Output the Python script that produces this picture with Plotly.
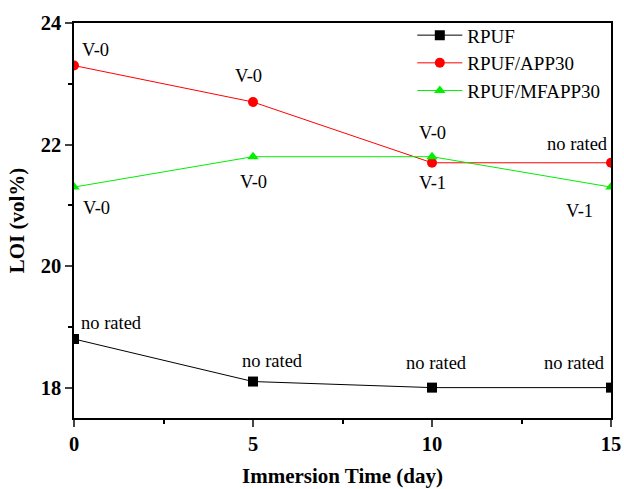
import plotly.graph_objects as go

days = [0, 5, 10, 15]
rpuf = [18.8, 18.1, 18.0, 18.0]
app30 = [23.3, 22.7, 21.7, 21.7]
mfapp30 = [21.3, 21.8, 21.8, 21.3]

rpuf_labels = ["no rated", "no rated", "no rated", "no rated"]
app30_labels = ["V-0", "V-0", "V-1", "no rated"]
mfapp30_labels = ["V-0", "V-0", "V-0", "V-1"]

FONT = "Liberation Serif, Times New Roman, serif"

fig = go.Figure()
series = [
    ("RPUF", rpuf, "#000000", "square"),
    ("RPUF/APP30", app30, "#ff0000", "circle"),
    ("RPUF/MFAPP30", mfapp30, "#00f000", "triangle-up"),
]
for name, ys, col, sym in series:
    fig.add_trace(go.Scatter(
        x=days, y=ys, name=name, mode="lines+markers",
        line=dict(color=col, width=1),
        marker=dict(color=col, symbol=sym, size=10),
    ))

# label offsets (pixels) per series/point
offs = {
    "rpuf": [(37, 16), (19, 21), (4, 25), (-37, 25)],
    "app30": [(21, 16), (-5, 26), (0, -20), (-34, 19)],
    "mfapp30": [(22, -21), (0, -25), (0, 24), (-32, -24)],
}
ann = []
for key, ys, labs in [("rpuf", rpuf, rpuf_labels), ("app30", app30, app30_labels),
                      ("mfapp30", mfapp30, mfapp30_labels)]:
    for i, (x, y, t) in enumerate(zip(days, ys, labs)):
        dx, dy = offs[key][i]
        ann.append(dict(x=x, y=y, text=t, showarrow=False, xshift=dx, yshift=dy,
                        font=dict(family=FONT, size=18.5, color="#000000")))

fig.update_layout(
    width=624, height=489,
    margin=dict(l=74, r=13, t=23, b=71),
    plot_bgcolor="white", paper_bgcolor="white",
    font=dict(family=FONT, color="#000000"),
    annotations=ann,
    showlegend=True,
    legend=dict(x=0.63, y=1.017, xanchor="left", yanchor="top",
                bgcolor="rgba(0,0,0,0)", font=dict(family=FONT, size=19),
                tracegroupgap=0, itemwidth=45),
    xaxis=dict(
        range=[0, 15], tickvals=[0, 5, 10, 15], ticks="outside", ticklen=7,
        tickwidth=1.5, showline=True, linecolor="black", linewidth=1.5, mirror=True,
        showgrid=False, zeroline=False, automargin=False,
        tickfont=dict(family=FONT, size=20.5, color="black", weight="bold"),
        minor=dict(dtick=2.5, tick0=0, ticks="outside", ticklen=4, tickcolor="black", showgrid=False),
        title=dict(text="<b>Immersion Time (day)</b>", font=dict(family=FONT, size=21), standoff=14),
    ),
    yaxis=dict(
        range=[17.5, 24], tickvals=[18, 20, 22, 24], ticks="outside", ticklen=7,
        tickwidth=1.5, showline=True, linecolor="black", linewidth=1.5, mirror=True,
        showgrid=False, zeroline=False, automargin=False,
        tickfont=dict(family=FONT, size=20.5, color="black", weight="bold"),
        minor=dict(dtick=1, tick0=0, ticks="outside", ticklen=4, tickcolor="black", showgrid=False),
        title=dict(text="<b>LOI (vol%)</b>", font=dict(family=FONT, size=21), standoff=10),
    ),
)

fig.write_html("out.html")
